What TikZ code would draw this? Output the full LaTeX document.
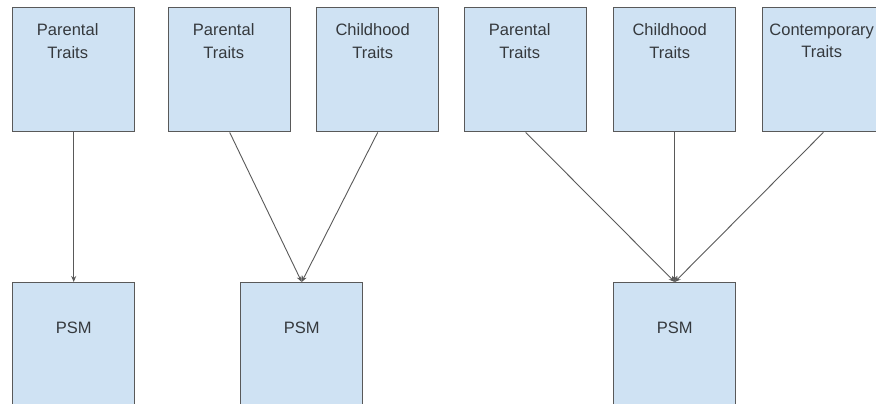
\documentclass[tikz,border=0pt]{standalone}
\usepackage{fontspec}
\setmainfont{Liberation Sans}
\usetikzlibrary{arrows.meta}
\definecolor{boxfill}{HTML}{CFE2F3}
\definecolor{boxline}{HTML}{595959}
\definecolor{txt}{HTML}{35393D}
\begin{document}
\begin{tikzpicture}[x=1pt,y=-1pt,
  box/.style={draw=boxline,line width=1.4pt,fill=boxfill,inner sep=0pt,
    minimum width=122pt,anchor=north west},
  topbox/.style={box,minimum height=124pt},
  botbox/.style={box,minimum height=130pt},
  lbl/.style={text=txt,font=\fontsize{16.5}{22.5}\selectfont,align=center,inner sep=0pt},
  conn/.style={draw=boxline,line width=0.9pt,-{Stealth[length=6pt,width=5pt]}}]
\useasboundingbox (0,0) rectangle (876,404);
\clip (0,0) rectangle (876,404);
% top boxes
\node[topbox] (p1) at (12,7) {};
\node[topbox] (p2) at (168,7) {};
\node[topbox] (c2) at (316,7) {};
\node[topbox] (p3) at (464,7) {};
\node[topbox] (c3) at (613,7) {};
\node[topbox] (t3) at (762,7) {};
% bottom boxes
\node[botbox] (b1) at (12,282) {};
\node[botbox] (b2) at (240,282) {};
\node[botbox] (b3) at (613,282) {};
% labels
\node[lbl] (lp1) at ([xshift=-6pt,yshift=-34pt]p1.north) {Parental\\Traits};
\node[lbl] (lp2) at ([xshift=-6pt,yshift=-34pt]p2.north) {Parental\\Traits};
\node[lbl] (lc2) at ([xshift=-5pt,yshift=-34pt]c2.north) {Childhood\\Traits};
\node[lbl] (lp3) at ([xshift=-6pt,yshift=-34pt]p3.north) {Parental\\Traits};
\node[lbl] (lc3) at ([xshift=-5pt,yshift=-34pt]c3.north) {Childhood\\Traits};
\node[lbl] (lt3) at ([xshift=-2pt,yshift=-34pt]t3.north) {Contemporary\\Traits};
\node[lbl] (lb1) at ([yshift=-46pt]b1.north) {PSM};
\node[lbl] (lb2) at ([yshift=-46pt]b2.north) {PSM};
\node[lbl] (lb3) at ([yshift=-46pt]b3.north) {PSM};
% connectors
\draw[conn] (p1.south) -- (b1.north);
\draw[conn] (p2.south) -- (b2.north);
\draw[conn] (c2.south) -- (b2.north);
\draw[conn] (p3.south) -- (b3.north);
\draw[conn] (c3.south) -- (b3.north);
\draw[conn] ([xshift=-62pt]t3.south east) coordinate (t3s) -- (b3.north);
\end{tikzpicture}
\end{document}
